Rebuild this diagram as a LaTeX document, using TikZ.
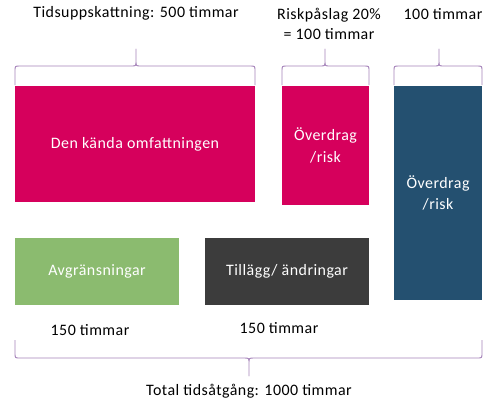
\documentclass[tikz,border=0pt]{standalone}
\usepackage{fontspec}
\setmainfont{Carlito}[LetterSpace=3]
\definecolor{bracec}{RGB}{165,130,185}
\definecolor{pinkc}{RGB}{214,0,92}
\definecolor{bluec}{RGB}{36,80,112}
\definecolor{greenc}{RGB}{139,187,111}
\definecolor{darkc}{RGB}{60,60,60}
\newcommand\topbrace[4]{% x1, x2, tip x, base y
  \draw[bracestyle] (#1,#4) -- (#1,71) .. controls (#1,66) .. (#1+5,66) -- (#3-5,66)
    .. controls (#3,66) .. (#3,61) -- (#3,49) -- (#3,61) .. controls (#3,66) .. (#3+5,66)
    -- (#2-5,66) .. controls (#2,66) .. (#2,71) -- (#2,#4);}
\begin{document}
\begin{tikzpicture}[x=1bp,y=-1bp,
  bracestyle/.style={draw=bracec,line width=0.9bp,line join=round},
  boxstyle/.style={draw=none,inner sep=0pt,outer sep=0pt,anchor=north west,text=white,align=center,font=\fontsize{16}{21.5}\selectfont},
  lbl/.style={inner sep=0pt,align=center,font=\fontsize{16}{20}\selectfont,text=black}]
\useasboundingbox (0,0) rectangle (492,404);
\node[boxstyle,fill=pinkc,minimum width=240bp,minimum height=116bp] (known) at (15,86) {Den kända omfattningen};
\node[boxstyle,fill=pinkc,minimum width=87bp,minimum height=119bp] (risk1) at (282,86) {Överdrag\\/risk};
\node[boxstyle,fill=bluec,minimum width=88bp,minimum height=214bp] (risk2) at (394,86) {Överdrag\\/risk};
\node[boxstyle,fill=greenc,minimum width=164bp,minimum height=67bp] (avgr) at (15,238) {Avgränsningar};
\node[boxstyle,fill=darkc,minimum width=164bp,minimum height=67bp] (till) at (205,238) {Tillägg/ ändringar};
\topbrace{15}{255}{136}{85}
\topbrace{282}{369}{325}{85}
\topbrace{394}{482}{439}{85}
\draw[bracestyle] (15,340) -- (15,353) .. controls (15,358) .. (20,358) -- (244,358)
  .. controls (249,358) .. (249,363) -- (249,376) -- (249,363) .. controls (249,358) .. (254,358)
  -- (477,358) .. controls (482,358) .. (482,353) -- (482,340);
\node[lbl] (t1) at (136,13) {Tidsuppskattning: 500 timmar};
\node[lbl] (t2) at (329,24) {Riskpåslag 20\%\\= 100 timmar};
\node[lbl] (t3) at (443,14) {100 timmar};
\node[lbl] (t4) at (90,330) {150 timmar};
\node[lbl] (t5) at (279,328) {150 timmar};
\node[lbl] (t6) at (249,391) {Total tidsåtgång: 1000 timmar};
\end{tikzpicture}
\end{document}
